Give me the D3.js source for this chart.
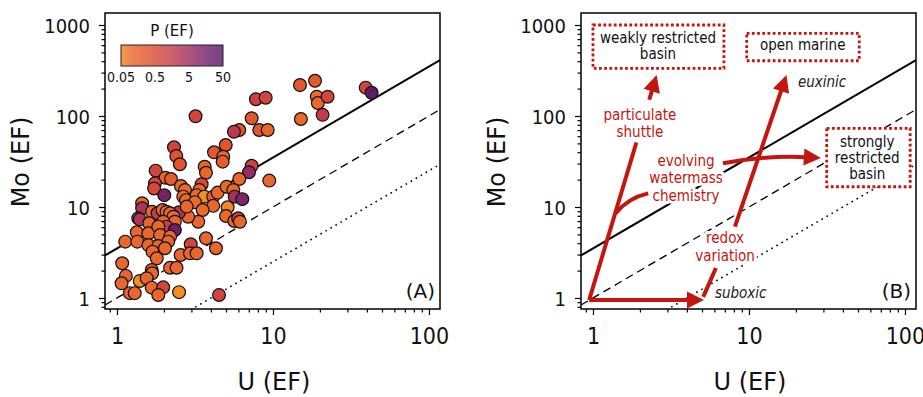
<!DOCTYPE html>
<html>
<head>
<meta charset="utf-8">
<script src="https://cdn.jsdelivr.net/npm/d3@7"></script>
<style>
  body { margin: 0; background: #fff; }
  svg { display: block; }
</style>
</head>
<body>
<svg id="chart" width="923" height="397"></svg>
<script>
// U enrichment factor, Mo enrichment factor and P enrichment factor (colour) for each sample
const uEF = [14.9, 18.6, 19.1, 19.4, 22.4, 20.8, 15.1, 39.3, 42.9, 7.78, 8.98, 3.19, 7.3, 8.17, 9.25, 6.08,
  5.62, 4.98, 4.19, 4.8, 4.76, 2.32, 2.4, 2.53, 7.3, 7.02, 9.47, 6.08, 3.65, 3.72, 1.77, 2.05, 2.22, 1.75,
  1.73, 2.01, 2.57, 2.73, 2.66, 2.77, 3.49, 3.37, 3.24, 3.63, 3.16, 4.14, 4.42, 5.05, 5.57, 5.68, 6.36,
  4.14, 3.54, 5.12, 5.0, 5.65, 5.99, 6.14, 3.32, 2.86, 2.5, 2.8, 1.45, 1.45, 1.68, 1.82, 1.96, 2.08, 2.19,
  2.3, 2.35, 1.37, 1.4, 1.61, 1.98, 2.08, 2.35, 1.34, 1.59, 1.84, 1.89, 2.19, 2.13, 1.13, 1.35, 1.59, 1.84,
  2.03, 1.69, 1.8, 2.56, 2.97, 2.94, 3.24, 3.72, 4.31, 1.08, 1.67, 1.68, 2.19, 2.41, 1.14, 1.07, 1.4, 1.55,
  1.67, 1.98, 1.84, 1.21, 1.3, 2.5, 4.51];
const moEF = [219, 244, 163, 139, 163, 103, 92.7, 205, 180, 153, 159, 99.3, 94.4, 70.2, 70.2, 70.2,
  67.2, 48, 39.9, 35.7, 31.5, 45.3, 36.3, 29.5, 28.4, 24.1, 19.5, 20.3, 27.7, 23.8, 25.1, 21, 20.3, 18.2,
  16, 13.5, 17, 15.4, 13, 11.9, 17.8, 15.4, 13.5, 13, 11.3, 13, 14.4, 16.7, 15.4, 13, 12.2,
  10.3, 9.27, 9.93, 7.96, 7.02, 7.51, 6.89, 6.89, 7.82, 8.74, 10.1, 11, 9.68, 8.88, 8.53, 9.27, 8.88, 8.53,
  7.82, 6.89, 7.51, 7.32, 6.62, 6.89, 6.08, 5.59, 5.27, 5.14, 6.08, 4.92, 4.72, 4.16, 4.16, 4.16, 3.82, 3.73,
  3.52, 3.23, 2.73, 2.97, 3.89, 3.1, 3.1, 4.53, 3.52, 2.41, 2.03, 1.87, 2.15, 2.15, 1.75, 1.45, 1.54, 1.65,
  1.3, 1.31, 1.08, 1.13, 1.13, 1.16, 1.08];
const pEF = [0.25, 0.25, 0.1, 0.1, 0.8, 1.5, 0.1, 0.8, 40, 1, 0.8, 0.8, 0.25, 0.25, 0.12, 0.3,
  2, 0.3, 0.25, 0.12, 0.2, 0.8, 0.3, 0.3, 1, 6, 0.12, 0.12, 0.12, 0.12, 0.8, 0.12, 0.2, 0.8,
  0.6, 15, 0.12, 0.1, 0.1, 0.1, 0.6, 0.12, 0.1, 0.04, 0.1, 0.2, 0.12, 0.1, 0.12, 4, 12,
  0.12, 0.1, 0.05, 0.12, 0.12, 1.2, 0.12, 0.12, 0.12, 3, 0.12, 0.12, 3, 0.12, 1.5, 0.12, 0.12, 0.12,
  0.12, 0.12, 0.12, 3, 0.12, 0.12, 1.5, 20, 0.12, 0.12, 0.12, 0.12, 0.12, 0.12, 0.12, 0.12, 0.12, 0.12,
  0.12, 0.12, 0.12, 0.12, 0.8, 0.12, 0.12, 0.12, 0.12, 0.12, 0.12, 0.12, 0.12, 0.12, 0.12, 0.12, 0.04, 0.12,
  0.12, 0.8, 0.12, 0.12, 0.12, 0.04, 0.9];

// Mo/U reference lines (multiples of seawater ratio)
const lineRatios = [3.5, 1, 0.25];
const xMajor = [1, 10, 100];
const yMajor = [1, 10, 100, 1000];
const pTicks = [0.05, 0.5, 5, 50];

const svg = d3.select("#chart");
const red = "#c3160e";
const lineDash = ["none", "8,5", "1.6,4.2"];
const lineWidth = [2, 1.3, 1.6];

const colorScale = d3.scaleLog()
  .domain([0.03, 0.1, 0.3, 1, 3, 10, 50])
  .range(["#f59a1e", "#eb6a2b", "#e0552f", "#cf4140", "#ae3459", "#84256a", "#561a6b"])
  .clamp(true);

function minorTicks(lo, hi) {
  const out = [];
  for (let e = -1; e <= 3; e++) {
    for (let k = 2; k <= 9; k++) {
      const v = k * Math.pow(10, e);
      if (v >= lo && v <= hi) out.push(v);
    }
  }
  return out;
}

function drawPanel(off, id) {
  const x = d3.scaleLog().domain([0.838, 117.7]).range([105 + off, 440 + off]);
  const y = d3.scaleLog().domain([0.757, 1355]).range([309, 13]);
  const g = svg.append("g");

  g.append("clipPath").attr("id", "clip" + id)
    .append("rect").attr("x", 105 + off).attr("y", 13).attr("width", 335).attr("height", 296);

  // axes
  const xa = g.append("g").attr("transform", "translate(0,309)");
  xa.append("g").call(d3.axisBottom(x).tickValues(minorTicks(0.838, 117.7)).tickSize(3.5).tickFormat(""));
  xa.append("g").call(d3.axisBottom(x).tickValues(xMajor).tickSize(6).tickFormat(d3.format("d")))
    .selectAll("text")
    .attr("y", 35).attr("dy", null)
    .style("font-family", "'Liberation Sans Narrow', 'DejaVu Sans Condensed', sans-serif")
    .style("font-size", "23px").attr("fill", "#111");

  const ya = g.append("g").attr("transform", `translate(${105 + off},0)`);
  ya.append("g").call(d3.axisLeft(y).tickValues(minorTicks(0.757, 1355)).tickSize(3.5).tickFormat(""));
  ya.append("g").call(d3.axisLeft(y).tickValues(yMajor).tickSize(6).tickFormat(d3.format("d")))
    .selectAll("text")
    .attr("x", -15).attr("dy", "0.36em")
    .style("font-family", "'DejaVu Sans Condensed', 'DejaVu Sans', sans-serif")
    .style("font-size", "20px").attr("fill", "#111");

  g.selectAll(".domain").remove();
  g.selectAll(".tick line").attr("stroke", "#000").attr("stroke-width", 1.2);

  // axis titles
  g.append("text")
    .attr("x", 274 + off).attr("y", 390)
    .attr("text-anchor", "middle")
    .style("font-family", "'DejaVu Sans', sans-serif").style("font-size", "24px")
    .attr("fill", "#111")
    .text("U (EF)");
  g.append("text")
    .attr("transform", `translate(${29 + off},162) rotate(-90)`)
    .attr("text-anchor", "middle")
    .style("font-family", "'DejaVu Sans', sans-serif").style("font-size", "24px")
    .attr("fill", "#111")
    .text("Mo (EF)");

  // reference lines
  const lines = g.append("g").attr("clip-path", `url(#clip${id})`);
  lineRatios.forEach((r, i) => {
    const d0 = x.domain()[0], d1 = x.domain()[1];
    lines.append("line")
      .attr("x1", x(d0)).attr("y1", y(r * d0))
      .attr("x2", x(d1)).attr("y2", y(r * d1))
      .attr("stroke", "#000")
      .attr("stroke-width", lineWidth[i])
      .attr("stroke-dasharray", lineDash[i]);
  });

  return { g, x, y };
}

// ---------- panel A ----------
const A = drawPanel(0, "A");

A.g.append("g")
  .selectAll("circle")
  .data(uEF.map((u, i) => ({ u, mo: moEF[i], p: pEF[i] })))
  .join("circle")
  .attr("cx", d => A.x(d.u))
  .attr("cy", d => A.y(d.mo))
  .attr("r", 6.4)
  .attr("fill", d => colorScale(d.p))
  .attr("stroke", "#111")
  .attr("stroke-width", 1.2);

// colour bar
const pScale = d3.scaleLog().domain([0.05, 50]).range([121, 223]);
const grad = svg.append("defs").append("linearGradient").attr("id", "pgrad");
d3.range(0, 1.0001, 0.1).forEach(t => {
  grad.append("stop")
    .attr("offset", t)
    .attr("stop-color", colorScale(0.05 * Math.pow(1000, t)))
    .attr("stop-opacity", 0.82);
});
A.g.append("rect")
  .attr("x", 121).attr("y", 45).attr("width", 102).attr("height", 21)
  .attr("fill", "url(#pgrad)").attr("stroke", "#222").attr("stroke-width", 1);
A.g.append("text")
  .attr("x", 172).attr("y", 36).attr("text-anchor", "middle")
  .style("font-family", "'DejaVu Sans', sans-serif").style("font-size", "15px")
  .attr("fill", "#111").text("P (EF)");
A.g.selectAll(".ptick")
  .data(pTicks)
  .join("text")
  .attr("class", "ptick")
  .attr("x", d => pScale(d)).attr("y", 82)
  .attr("text-anchor", "middle")
  .style("font-family", "'Liberation Sans Narrow', 'DejaVu Sans Condensed', sans-serif")
  .style("font-size", "14px").attr("fill", "#111")
  .text(d => d);

A.g.append("text")
  .attr("x", 435).attr("y", 298).attr("text-anchor", "end")
  .style("font-family", "'DejaVu Sans', sans-serif").style("font-size", "20px")
  .attr("fill", "#111").text("(A)");

// ---------- panel B ----------
const B = drawPanel(476, "B");
const annFont = "'DejaVu Sans Condensed', 'DejaVu Sans', sans-serif";

// dotted boxes [u0, u1, mo0, mo1]
const boxes = [[1.0, 6.91, 1000, 334], [9.67, 50.9, 810, 405], [31.5, 108, 73.2, 16.7]];
B.g.selectAll(".box")
  .data(boxes)
  .join("rect")
  .attr("class", "box")
  .attr("x", d => B.x(d[0])).attr("y", d => B.y(d[2]))
  .attr("width", d => B.x(d[1]) - B.x(d[0]))
  .attr("height", d => B.y(d[3]) - B.y(d[2]))
  .attr("fill", "#fff")
  .attr("stroke", red).attr("stroke-width", 2.8)
  .attr("stroke-dasharray", "2.8,2.4");

// labels: [u, mo, lines, colour, italic, anchor]
const labels = [
  [2.61, 639, ["weakly restricted", "basin"], "#111", false, "middle"],
  [22.1, 531, ["open marine"], "#111", false, "middle"],
  [57.3, 46, ["strongly", "restricted", "basin"], "#111", false, "middle"],
  [20.6, 208, ["euxinic"], "#222", true, "start"],
  [6.05, 0.99, ["suboxic"], "#222", true, "start"],
  [2.0, 90.4, ["particulate", "shuttle"], red, false, "middle"],
  [3.95, 28.4, ["evolving", "watermass", "chemistry"], red, false, "middle"],
  [7.02, 3.99, ["redox", "variation"], red, false, "middle"]
];
labels.forEach(([u, mo, txt, col, it, anchor]) => {
  const t = B.g.append("text")
    .attr("x", B.x(u)).attr("y", B.y(mo))
    .attr("text-anchor", anchor)
    .style("font-family", annFont).style("font-size", "15px")
    .style("font-style", it ? "italic" : "normal")
    .attr("fill", col);
  if (col === red) {
    t.attr("stroke", "#fff").attr("stroke-width", 6)
      .attr("stroke-linejoin", "round").style("paint-order", "stroke");
  }
  txt.forEach((s, i) => {
    t.append("tspan").attr("x", B.x(u)).attr("dy", i === 0 ? 0 : (col === red ? 17.5 : 16)).text(s);
  });
});

// arrows
const arrows = B.g.append("g");
function px(p) { return [B.x(p[0]), B.y(p[1])]; }
function head(tip, from) {
  const dx = tip[0] - from[0], dy = tip[1] - from[1];
  const L = Math.hypot(dx, dy), ux = dx / L, uy = dy / L;
  const len = 17, hw = 8.5;
  const bx = tip[0] - ux * len, by = tip[1] - uy * len;
  arrows.append("path")
    .attr("d", `M${tip[0]},${tip[1]}L${bx - uy * hw},${by + ux * hw}L${bx + uy * hw},${by - ux * hw}Z`)
    .attr("fill", red);
  return [bx + ux * 2, by + uy * 2];
}
function seg(a, b) {
  arrows.append("path").attr("d", `M${a[0]},${a[1]}L${b[0]},${b[1]}`)
    .attr("stroke", red).attr("stroke-width", 4).attr("fill", "none");
}
function lerp(a, b, t) { return [a[0] + (b[0] - a[0]) * t, a[1] + (b[1] - a[1]) * t]; }

const origin = px([0.945, 0.95]);
// horizontal to suboxic
const hTip = px([5.15, 0.95]);
seg(origin, head(hTip, origin));
// particulate shuttle to weakly restricted basin
const wTip = px([2.56, 282]);
const wBase = head(wTip, origin);
seg(origin, lerp(origin, wTip, 0.70));
seg(lerp(origin, wTip, 0.89), wBase);
// branch toward chemistry
const b0 = px([1.40, 8.53]), bc = px([1.68, 12.6]), b1 = px([2.26, 14.1]);
arrows.append("path").attr("d", `M${b0}Q${bc} ${b1}`)
  .attr("stroke", red).attr("stroke-width", 4).attr("fill", "none");
// redox variation
seg(px([5.09, 1.03]), px([6.14, 2.14]));
const rFrom = px([8.13, 6.08]), rTip = px([17.4, 282]);
seg(rFrom, head(rTip, rFrom));
// evolving watermass to strongly restricted
const e0 = px([6.81, 30.2]), ec = px([13.6, 37.3]), eTip = px([28.9, 34.5]);
const eBase = head(eTip, ec);
arrows.append("path").attr("d", `M${e0}Q${ec} ${eBase}`)
  .attr("stroke", red).attr("stroke-width", 4).attr("fill", "none");

B.g.append("text")
  .attr("x", 911).attr("y", 298).attr("text-anchor", "end")
  .style("font-family", "'DejaVu Sans', sans-serif").style("font-size", "20px")
  .attr("fill", "#111").text("(B)");

// frames on top
[0, 476].forEach(off => {
  svg.append("rect")
    .attr("x", 105 + off).attr("y", 13).attr("width", 335).attr("height", 296)
    .attr("fill", "none").attr("stroke", "#000").attr("stroke-width", 1.5);
});
</script>
</body>
</html>
